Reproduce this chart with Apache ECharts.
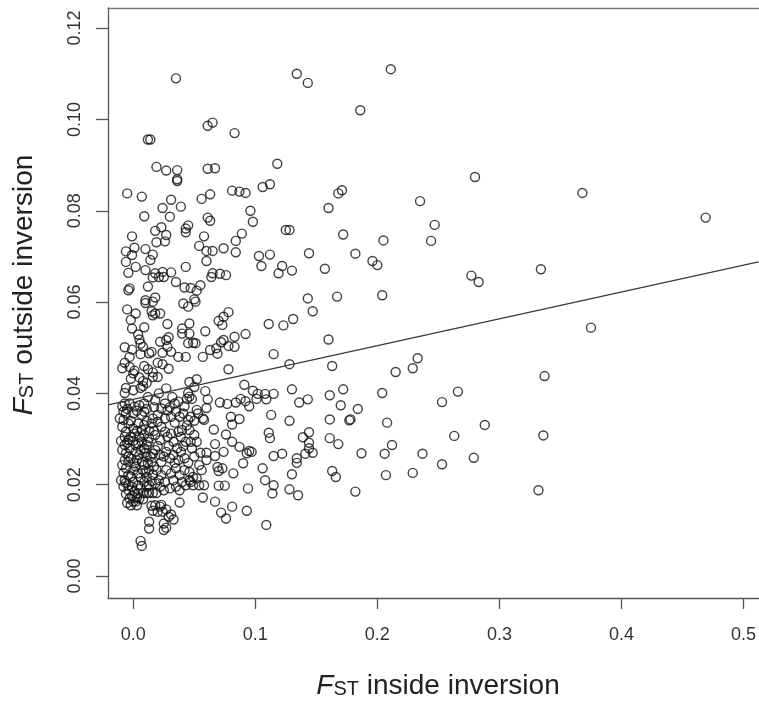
<!DOCTYPE html>
<html>
<head>
<meta charset="utf-8">
<script src="https://cdn.jsdelivr.net/npm/echarts@6/dist/echarts.min.js"></script>
<style>
  html, body { margin: 0; padding: 0; background: #fff; }
  #chart { width: 759px; height: 704px; }
</style>
</head>
<body>
<div id="chart"></div>
<script>
// F_ST inside vs outside inversion, pairs of [inside, outside]
const sparsePoints = [
  [0.035,0.109],[0.134,0.110],[0.143,0.108],[0.211,0.111],[0.186,0.102],[0.280,0.0874],[0.171,0.0845],[0.168,0.0838],
  [0.160,0.0806],[0.235,0.0821],[0.247,0.0769],[0.244,0.0734],[0.128,0.0758],[0.172,0.0748],[0.205,0.0735],[0.144,0.0707],
  [0.182,0.0706],[0.196,0.0690],[0.200,0.0681],[0.130,0.0669],[0.157,0.0673],[0.277,0.0658],[0.283,0.0644],[0.143,0.0608],
  [0.167,0.0612],[0.204,0.0615],[0.147,0.0580],[0.131,0.0563],[0.160,0.0518],[0.128,0.0464],[0.163,0.0460],[0.233,0.0477],
  [0.229,0.0455],[0.215,0.0447],[0.130,0.0409],[0.172,0.0409],[0.204,0.0401],[0.266,0.0404],[0.253,0.0381],[0.136,0.0380],
  [0.143,0.0387],[0.161,0.0396],[0.170,0.0374],[0.184,0.0366],[0.128,0.0340],[0.161,0.0343],[0.177,0.0341],[0.178,0.0343],
  [0.208,0.0336],[0.288,0.0331],[0.144,0.0315],[0.139,0.0304],[0.161,0.0302],[0.168,0.0289],[0.144,0.0292],[0.144,0.0280],
  [0.263,0.0307],[0.212,0.0287],[0.141,0.0268],[0.147,0.0270],[0.187,0.0269],[0.206,0.0268],[0.237,0.0268],[0.134,0.0258],
  [0.134,0.0248],[0.279,0.0259],[0.253,0.0245],[0.130,0.0223],[0.163,0.0230],[0.166,0.0217],[0.207,0.0221],[0.229,0.0226],
  [0.128,0.0190],[0.135,0.0177],[0.182,0.0185],[0.368,0.0839],[0.469,0.0785],[0.334,0.0672],[0.375,0.0544],[0.337,0.0438],
  [0.336,0.0308],[0.332,0.0188]
];

const upperPoints = [
  [0.012,0.0956],[0.014,0.0956],[0.061,0.0986],[0.065,0.0993],[0.083,0.0970],[0.118,0.0903],[0.019,0.0896],[0.027,0.0888],
  [0.036,0.0889],[0.036,0.0869],[0.036,0.0865],[0.061,0.0892],[0.067,0.0893],[-0.005,0.0838],[0.007,0.0831],[0.031,0.0824],
  [0.056,0.0826],[0.063,0.0836],[0.081,0.0844],[0.087,0.0842],[0.092,0.0839],[0.106,0.0852],[0.112,0.0858],[0.024,0.0806],
  [0.039,0.0809],[0.096,0.0800],[0.009,0.0788],[0.030,0.0787],[0.061,0.0785],[0.063,0.0778],[0.098,0.0776],[0.045,0.0768],
  [0.043,0.0761],[0.043,0.0753],[0.018,0.0756],[0.023,0.0764],[0.027,0.0747],[0.125,0.0758],[-0.001,0.0744],[0.058,0.0744],
  [0.089,0.0750],[0.084,0.0734],[0.019,0.0731],[0.026,0.0733],[0.054,0.0723],[0.060,0.0712],[0.065,0.0712],[0.074,0.0718],
  [0.084,0.0709],[-0.006,0.0711],[0.001,0.0719],[-0.001,0.0703],[0.010,0.0716],[0.016,0.0704],[0.014,0.0692],[-0.006,0.0688],
  [0.002,0.0677],[-0.004,0.0664],[0.010,0.0670],[0.018,0.0663],[0.016,0.0654],[0.021,0.0655],[0.024,0.0666],[0.025,0.0655],
  [0.031,0.0665],[0.043,0.0677],[0.060,0.0690],[0.103,0.0701],[0.112,0.0704],[0.105,0.0679],[0.122,0.0679],[0.119,0.0663],
  [0.035,0.0644],[0.012,0.0634],[0.042,0.0632],[0.047,0.0631],[0.055,0.0637],[0.052,0.0625],[0.064,0.0655],[0.065,0.0663],
  [0.071,0.0662],[0.076,0.0659],[-0.004,0.0626],[-0.003,0.0630],[0.018,0.0610],[0.010,0.0604],[0.050,0.0606]
];

const middlePoints = [
  [-0.005,0.0584],[0.002,0.0575],[0.010,0.0598],[0.016,0.0601],[0.015,0.0580],[0.018,0.0575],[0.022,0.0575],[0.016,0.0571],
  [-0.002,0.0561],[-0.001,0.0542],[0.009,0.0545],[0.041,0.0597],[0.045,0.0590],[0.051,0.0601],[0.028,0.0552],[0.040,0.0542],
  [0.046,0.0553],[0.046,0.0531],[0.040,0.0531],[0.059,0.0536],[0.070,0.0559],[0.074,0.0568],[0.078,0.0578],[0.073,0.0550],
  [0.111,0.0552],[0.123,0.0549],[0.092,0.0530],[0.083,0.0524],[0.083,0.0502],[0.074,0.0517],[0.072,0.0512],[0.004,0.0529],
  [0.005,0.0518],[0.006,0.0509],[-0.007,0.0501],[-0.001,0.0496],[-0.003,0.0480],[0.008,0.0502],[0.006,0.0486],[0.013,0.0488],
  [0.015,0.0491],[0.022,0.0513],[0.027,0.0517],[0.029,0.0523],[0.028,0.0502],[0.024,0.0489],[0.031,0.0491],[0.037,0.0480],
  [0.043,0.0480],[0.049,0.0511],[0.051,0.0510],[0.045,0.0510],[0.057,0.0480],[0.063,0.0495],[0.069,0.0487],[0.068,0.0499],
  [0.078,0.0504],[0.115,0.0486],[0.078,0.0453],[-0.009,0.0455],[-0.003,0.0458],[0.000,0.0444],[0.001,0.0450],[-0.002,0.0432],
  [0.005,0.0435],[-0.007,0.0467],[0.009,0.0460],[0.012,0.0453],[0.020,0.0467],[0.024,0.0464],[0.029,0.0454],[0.016,0.0446],
  [0.016,0.0436],[0.008,0.0427],[0.008,0.0416],[0.011,0.0423],[0.020,0.0436],[-0.006,0.0412],[-0.007,0.0401],[0.000,0.0407],
  [0.006,0.0412],[0.027,0.0411],[0.046,0.0425],[0.052,0.0431],[0.050,0.0414],[0.045,0.0401],[0.046,0.0393],[0.048,0.0388],
  [0.059,0.0405],[0.061,0.0387],[0.060,0.0368],[0.071,0.0380],[0.077,0.0377],[0.084,0.0380],[0.088,0.0388],[0.092,0.0383],
  [0.095,0.0372],[0.101,0.0388],[0.108,0.0399],[0.109,0.0387],[0.115,0.0399],[0.091,0.0419],[0.098,0.0406],[0.102,0.0399],
  [0.113,0.0353],[0.080,0.0349],[0.081,0.0332],[0.087,0.0344],[0.066,0.0321],[0.076,0.0310],[0.081,0.0294],[0.087,0.0283],
  [0.095,0.0274],[0.097,0.0272],[0.093,0.0269],[0.067,0.0289],[0.055,0.0270],[0.060,0.0270],[0.067,0.0263],[0.074,0.0272],
  [0.111,0.0314],[0.112,0.0302],[0.115,0.0263],[0.122,0.0268],[0.090,0.0247],[0.106,0.0236],[0.069,0.0239],[0.073,0.0236],
  [0.070,0.0230],[0.082,0.0225],[0.108,0.0210],[0.115,0.0199],[0.114,0.0181],[0.094,0.0192],[0.070,0.0198],[0.075,0.0198],
  [0.054,0.0199],[0.057,0.0172],[0.067,0.0163],[0.038,0.0161],[0.081,0.0152],[0.072,0.0139],[0.076,0.0126],[0.093,0.0143],
  [0.109,0.0112],[0.006,0.0077],[0.007,0.0066],[0.013,0.0119],[0.013,0.0104],[0.015,0.0154],[0.016,0.0143],[0.023,0.0156],
  [0.027,0.0146],[0.029,0.0130],[0.027,0.0106],[0.025,0.0101],[0.033,0.0124],[0.031,0.0135],[0.025,0.0115],[0.038,0.0188],
  [0.043,0.0199],[0.047,0.0206]
];

const clusterPoints = [
  [-0.007,0.0378],[-0.003,0.0378],[0.001,0.0371],[0.005,0.0374],[0.009,0.0378],[-0.008,0.0360],[-0.006,0.0356],[0.000,0.0356],
  [0.007,0.0353],[0.009,0.0360],[0.018,0.0385],[0.026,0.0378],[0.023,0.0367],[0.028,0.0363],[0.034,0.0378],[0.037,0.0382],
  [0.031,0.0349],[0.020,0.0353],[0.020,0.0338],[0.023,0.0327],[0.015,0.0334],[0.035,0.0360],[0.038,0.0349],[0.041,0.0356],
  [0.045,0.0342],[0.047,0.0349],[0.053,0.0356],[0.052,0.0364],[0.057,0.0345],[0.058,0.0342],[-0.008,0.0342],[-0.004,0.0334],
  [0.000,0.0323],[0.004,0.0334],[0.007,0.0320],[0.009,0.0331],[-0.006,0.0316],[0.001,0.0312],[0.005,0.0305],[0.009,0.0309],
  [-0.004,0.0298],[-0.002,0.0305],[-0.007,0.0305],[-0.007,0.0287],[-0.003,0.0280],[0.002,0.0287],[0.007,0.0294],[0.011,0.0287],
  [0.013,0.0302],[0.018,0.0309],[0.022,0.0298],[0.026,0.0316],[0.028,0.0305],[0.033,0.0294],[0.037,0.0316],[0.039,0.0305],
  [0.043,0.0294],[0.046,0.0320],[0.050,0.0309],[0.047,0.0294],[0.052,0.0294],[0.060,0.0254],[0.054,0.0243],[-0.006,0.0269],
  [-0.007,0.0254],[-0.002,0.0258],[0.001,0.0247],[0.005,0.0265],[0.007,0.0250],[0.011,0.0261],[0.012,0.0247],[0.018,0.0276],
  [0.022,0.0265],[0.023,0.0250],[0.027,0.0272],[0.030,0.0258],[0.033,0.0265],[0.037,0.0254],[0.039,0.0272],[0.042,0.0258],
  [-0.006,0.0236],[-0.004,0.0221],[0.000,0.0232],[0.004,0.0225],[0.008,0.0232],[0.011,0.0217],[0.013,0.0232],[0.019,0.0232],
  [0.023,0.0221],[0.027,0.0232],[0.031,0.0225],[0.035,0.0236],[0.038,0.0221],[0.042,0.0232],[0.046,0.0228],[0.049,0.0217],
  [0.046,0.0210],[0.052,0.0214],[0.056,0.0232],[0.049,0.0199],[-0.007,0.0210],[-0.008,0.0196],[-0.004,0.0199],[0.000,0.0206],
  [0.004,0.0199],[0.009,0.0206],[0.013,0.0199],[0.008,0.0182],[0.011,0.0182],[0.013,0.0182],[0.016,0.0182],[0.019,0.0182],
  [0.018,0.0203],[0.022,0.0196],[0.026,0.0206],[0.030,0.0192],[-0.003,0.0170],[0.000,0.0163],[-0.002,0.0155],[0.002,0.0163],
  [0.005,0.0170],[-0.004,0.0188],[0.001,0.0185],[0.004,0.0181],[0.018,0.0155],[0.022,0.0152],[0.020,0.0141],[0.024,0.0141],
  [0.058,0.0199],[-0.011,0.0345],[-0.010,0.0210]
];

// Overlapping marks packed inside the darkest part of the cluster
const densePoints = [
  [-0.009,0.0372],[-0.005,0.0366],[0.003,0.0362],[0.011,0.0366],[-0.009,0.0327],[-0.002,0.0340],[0.003,0.0318],[0.011,0.0340],
  [0.013,0.0318],[-0.010,0.0296],[-0.005,0.0292],[0.000,0.0296],[0.004,0.0290],[0.009,0.0280],[0.012,0.0294],[-0.009,0.0276],
  [-0.004,0.0262],[0.002,0.0272],[0.006,0.0276],[0.010,0.0270],[0.014,0.0262],[-0.009,0.0243],[-0.004,0.0250],[0.003,0.0254],
  [0.009,0.0243],[0.015,0.0250],[-0.008,0.0226],[-0.002,0.0218],[0.002,0.0240],[0.006,0.0215],[0.010,0.0228],[0.016,0.0222],
  [-0.006,0.0204],[-0.001,0.0196],[0.006,0.0192],[0.011,0.0196],[0.015,0.0208],[-0.006,0.0180],[-0.001,0.0176],[0.003,0.0172],
  [0.008,0.0168],[-0.005,0.0160],[0.003,0.0155],[0.017,0.0370],[0.030,0.0370],[0.042,0.0372],[0.016,0.0345],[0.026,0.0345],
  [0.034,0.0336],[0.044,0.0330],[0.050,0.0340],[0.017,0.0318],[0.031,0.0312],[0.040,0.0320],[0.020,0.0285],[0.029,0.0285],
  [0.036,0.0280],[0.041,0.0285],[0.048,0.0280],[0.016,0.0268],[0.025,0.0262],[0.034,0.0248],[0.045,0.0248],[0.050,0.0262],
  [0.017,0.0240],[0.021,0.0210],[0.033,0.0210],[0.040,0.0206],[0.025,0.0188],[0.035,0.0196],[0.044,0.0388],[0.032,0.0392],
  [0.012,0.0392],[0.021,0.0400]
];

// Least-squares fit line drawn across the plot
const fitIntercept = 0.0387;
const fitSlope = 0.0588;

const xTicks = [0, 0.1, 0.2, 0.3, 0.4, 0.5];
const yTicks = [0, 0.02, 0.04, 0.06, 0.08, 0.10, 0.12];

const xMin = -0.0207, xMax = 0.5123;
const yMin = -0.0048, yMax = 0.1244;

const allPoints = sparsePoints.concat(upperPoints, middlePoints, clusterPoints, densePoints);
const fitLine = [xMin, xMax].map(x => [x, fitIntercept + fitSlope * x]);

const chart = echarts.init(document.getElementById('chart'), null, { renderer: 'canvas' });
const axisColor = '#555';
const textColor = '#333';
const fontFamily = '"Liberation Sans", Arial, Helvetica, sans-serif';

const titleRich = {
  f: { fontSize: 28, fontStyle: 'italic', fontFamily: fontFamily, fill: '#222' },
  s: { fontSize: 20, fontFamily: fontFamily, fill: '#222', verticalAlign: 'bottom', padding: [0, 0, 1, 0] },
  r: { fontSize: 28, fontFamily: fontFamily, fill: '#222' }
};

chart.setOption({
  animation: false,
  backgroundColor: '#fff',
  grid: { left: 108, top: 8, right: 0, bottom: 106, show: false },
  xAxis: [
    {
      type: 'value', min: xMin, max: xMax, position: 'bottom',
      splitLine: { show: false },
      axisLine: { show: true, onZero: false, lineStyle: { color: axisColor, width: 1.3 } },
      axisTick: { show: true, inside: false, length: 11, customValues: xTicks, lineStyle: { color: axisColor, width: 1.3 } },
      axisLabel: {
        customValues: xTicks, margin: 28, color: textColor, fontSize: 18, fontFamily: fontFamily,
        formatter: v => v.toFixed(1)
      }
    },
    {
      // top edge of the box
      type: 'value', min: xMin, max: xMax, position: 'top',
      splitLine: { show: false },
      axisLine: { show: true, onZero: false, lineStyle: { color: '#777', width: 1.3 } },
      axisTick: { show: false }, axisLabel: { show: false }
    }
  ],
  yAxis: {
    type: 'value', min: yMin, max: yMax,
    splitLine: { show: false },
    axisLine: { show: true, onZero: false, lineStyle: { color: axisColor, width: 1.3 } },
    axisTick: { show: true, inside: false, length: 12, customValues: yTicks, lineStyle: { color: axisColor, width: 1.3 } },
    axisLabel: {
      customValues: yTicks, margin: 24, rotate: 90, color: textColor, fontSize: 18, fontFamily: fontFamily,
      formatter: v => v.toFixed(2)
    }
  },
  graphic: [
    {
      type: 'text', x: 438, y: 686,
      style: { text: '{f|F}{s|ST}{r| inside inversion}', align: 'center', verticalAlign: 'middle', rich: titleRich }
    },
    {
      type: 'text', x: 24, y: 285, rotation: Math.PI / 2,
      style: { text: '{f|F}{s|ST}{r| outside inversion}', align: 'center', verticalAlign: 'middle', rich: titleRich }
    }
  ],
  series: [
    {
      type: 'scatter', xAxisIndex: 0, data: allPoints, symbol: 'circle', symbolSize: 9, silent: true,
      itemStyle: { color: 'rgba(0,0,0,0)', borderColor: '#111', borderWidth: 1.4 },
      z: 3
    },
    {
      type: 'line', xAxisIndex: 0, data: fitLine, showSymbol: false, silent: true, clip: true,
      lineStyle: { color: '#3a3a3a', width: 1.3 }, z: 4
    }
  ]
});
</script>
</body>
</html>
